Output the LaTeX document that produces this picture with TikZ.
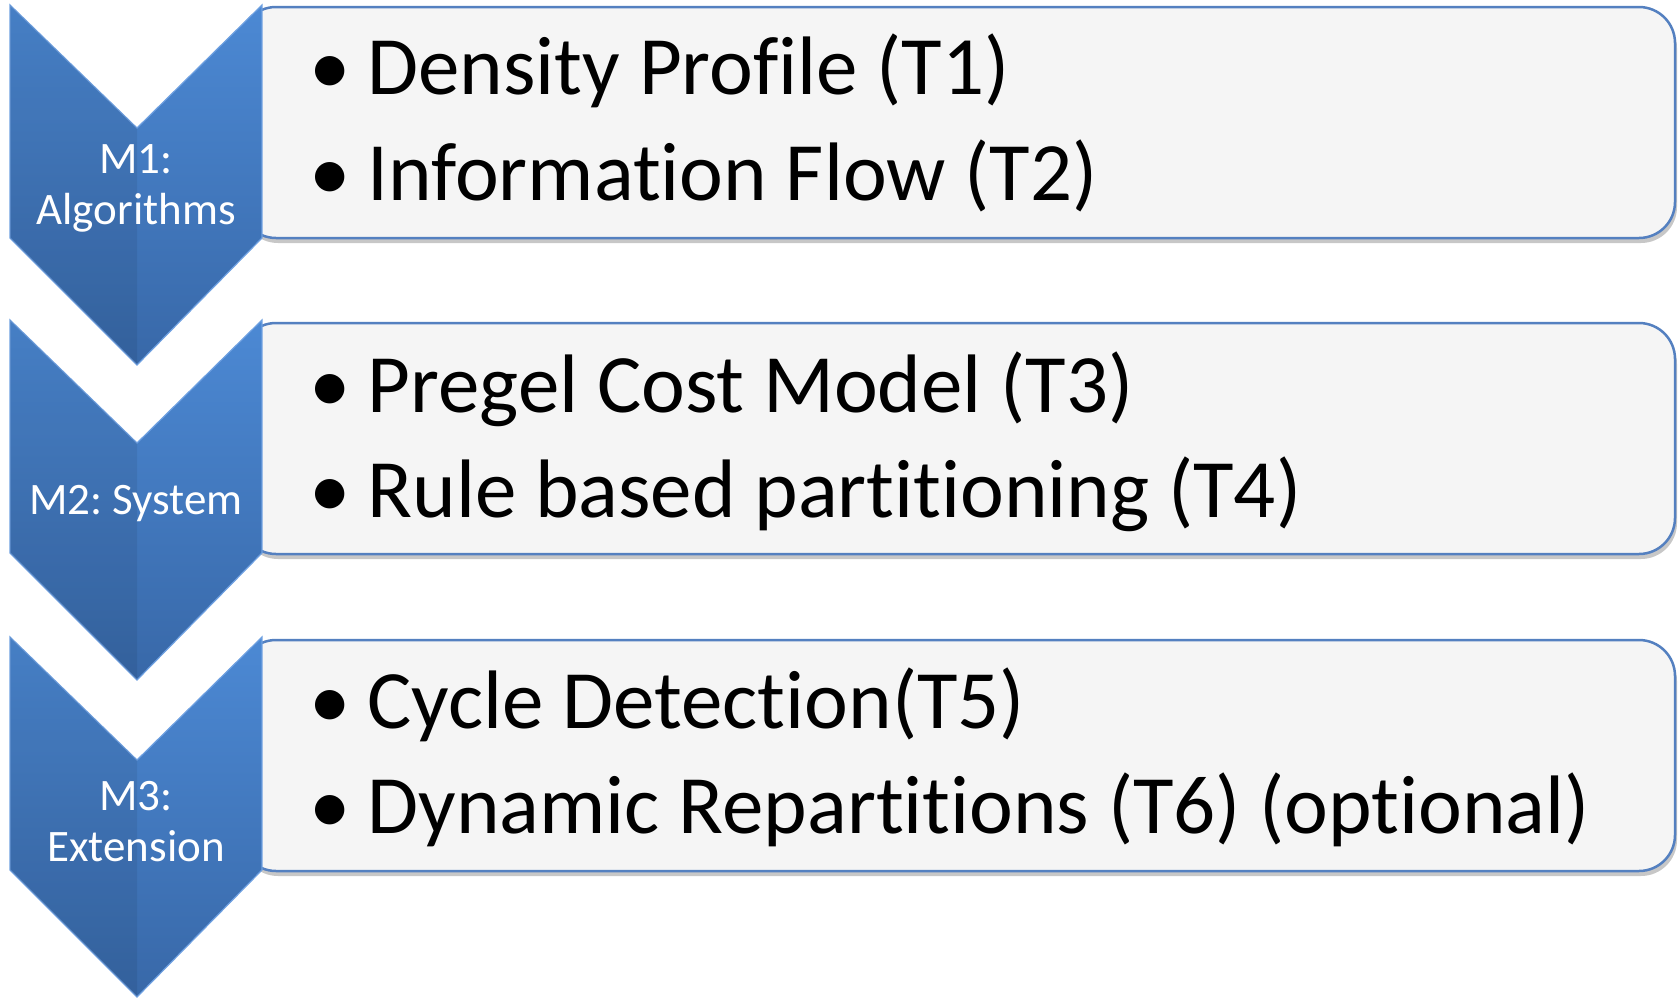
\documentclass[tikz,border=0pt]{standalone}
\usepackage{fontspec}
\setmainfont[Ligatures=NoCommon]{Carlito}
\frenchspacing
\usetikzlibrary{shadows,calc}
\definecolor{chevtop}{RGB}{76,137,212}
\definecolor{chevbot}{RGB}{56,104,168}
\definecolor{chevedge}{RGB}{110,160,225}
\definecolor{boxfill}{RGB}{245,245,245}
\definecolor{boxline}{RGB}{84,128,192}
\tikzset{
  chevron/.style={top color=chevtop, bottom color=chevbot, draw=chevedge, line width=1.2pt, line join=miter},
  panel/.style={fill=boxfill, draw=boxline, line width=2.5pt, rounded corners=36pt,
    drop shadow={shadow xshift=2pt, shadow yshift=-5pt, opacity=0.22, fill=black}},
  chevlabel/.style={text=white, font=\fontsize{45}{51}\selectfont\frenchspacing, align=center},
  item/.style={anchor=base west, font=\fontsize{83}{100}\selectfont, inner sep=0pt}
}
\begin{document}
\begin{tikzpicture}[x=1pt,y=-1pt]
\useasboundingbox (0,0) rectangle (1679,1001);
\fill[white] (0,0) rectangle (1679,1001);
% panels
\foreach \t in {7,323,640}{
  \path[panel] (240,\t) rectangle (1675,\t+231);
}
% chevrons
\foreach \t in {5,320,637}{
  \path[chevron] (10,\t) -- (137,\t+123) -- (262,\t) -- (262,\t+233) -- (137,\t+360) -- (10,\t+233) -- cycle;
  \fill[black,opacity=0.07] (10,\t) -- (137,\t+123) -- (137,\t+360) -- (10,\t+233) -- cycle;
}
% chevron labels
\node[chevlabel] (m1) at (136,188) {M1:\\Algorithms};
\node[chevlabel, anchor=base] (m2) at (136,514) {M2: System};
\node[chevlabel] (m3) at (136,822) {M3:\\Extension};
% items
\node[item] (t1) at (309,94) {•\hspace{17pt}Density Profile (T1)};
\node[item] (t2) at (309,200) {•\hspace{17pt}Information Flow (T2)};
\node[item] (t3) at (309,412) {•\hspace{17pt}Pregel Cost Model (T3)};
\node[item] (t4) at (309,517) {•\hspace{17pt}Rule based partitioning (T4)};
\node[item] (t5) at (309,728) {•\hspace{17pt}Cycle Detection(T5)};
\node[item] (t6) at (309,833) {•\hspace{17pt}Dynamic Repartitions (T6) (optional)};
\end{tikzpicture}
\end{document}
